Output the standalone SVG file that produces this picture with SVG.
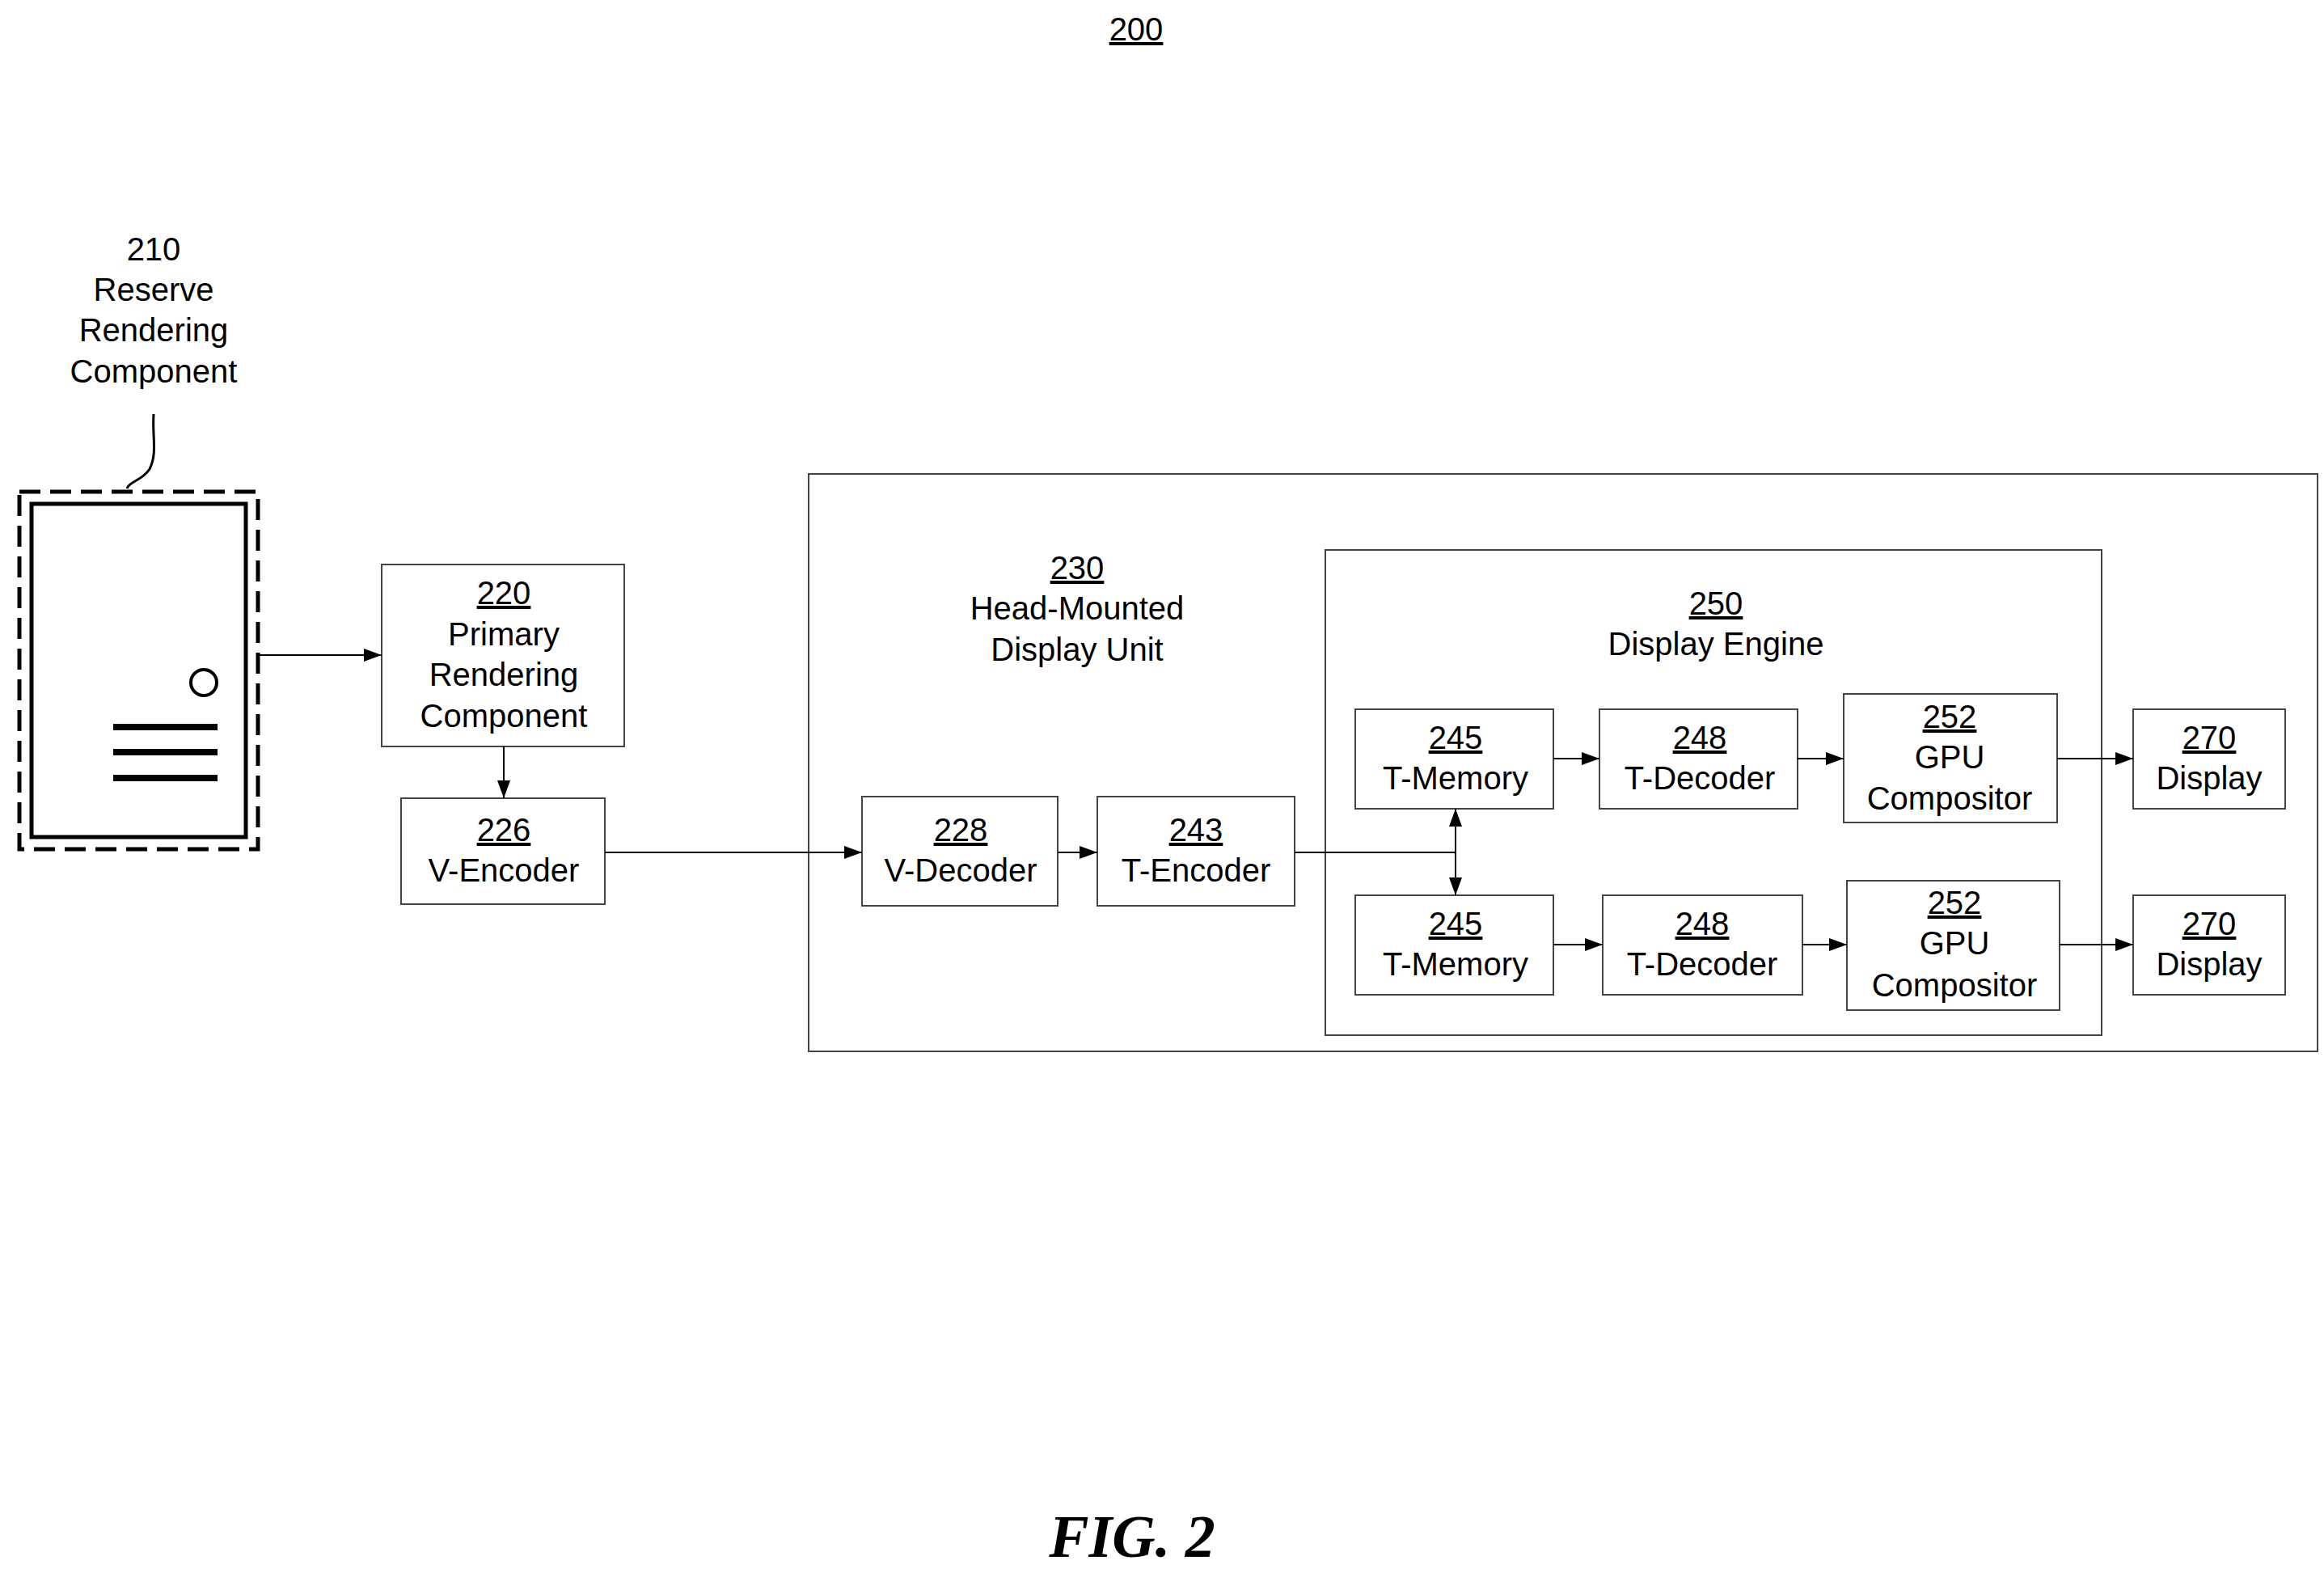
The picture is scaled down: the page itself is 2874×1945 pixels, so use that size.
<svg xmlns="http://www.w3.org/2000/svg" width="2874" height="1945" viewBox="0 0 2874 1945">
<defs>
<marker id="a" markerWidth="22" markerHeight="16" refX="22" refY="8" orient="auto-start-reverse" markerUnits="userSpaceOnUse"><path d="M0,0 L22,8 L0,16 z" fill="#000"/></marker>
</defs>
<style>
text{font-family:"Liberation Sans",Arial,sans-serif;font-size:40px;text-anchor:middle;fill:#000}
.u{text-decoration:underline}
.b{fill:#fff;stroke:#444;stroke-width:2}
.c line,.c path{stroke:#000;stroke-width:2;fill:none}
</style>
<rect x="0" y="0" width="2874" height="1945" fill="#fff"/>
<text x="1405" y="50" class="u">200</text>
<g id="n210">
<text x="190" y="322">210</text><text x="190" y="372">Reserve</text><text x="190" y="422">Rendering</text><text x="190" y="473">Component</text>
<path d="M190,512 C188,540 195,560 185,580 C175,595 160,595 157,604" fill="none" stroke="#000" stroke-width="3"/>
<rect x="24" y="608" width="295" height="442" fill="none" stroke="#000" stroke-width="5" stroke-dasharray="26,12"/>
<rect x="39" y="623" width="265" height="412" fill="#fff" stroke="#000" stroke-width="5"/>
<circle cx="252" cy="844" r="16" fill="#fff" stroke="#000" stroke-width="4"/>
<line x1="140" y1="899" x2="269" y2="899" stroke="#000" stroke-width="8"/>
<line x1="140" y1="930" x2="269" y2="930" stroke="#000" stroke-width="8"/>
<line x1="140" y1="962" x2="269" y2="962" stroke="#000" stroke-width="8"/>
</g>
<g id="n220"><rect class="b" x="472" y="698" width="300" height="225"/><text x="623" y="747" class="u">220</text><text x="623" y="798">Primary</text><text x="623" y="848">Rendering</text><text x="623" y="899">Component</text></g>
<g id="n226"><rect class="b" x="496" y="987" width="252" height="131"/><text x="623" y="1040" class="u">226</text><text x="623" y="1090">V-Encoder</text></g>
<g id="n230"><rect class="b" x="1000" y="586" width="1866" height="714"/><text x="1332" y="716" class="u">230</text><text x="1332" y="766">Head-Mounted</text><text x="1332" y="817">Display Unit</text></g>
<g id="n250"><rect class="b" x="1639" y="680" width="960" height="600"/><text x="2122" y="760" class="u">250</text><text x="2122" y="810">Display Engine</text></g>
<g id="n228"><rect class="b" x="1066" y="985" width="242" height="135"/><text x="1188" y="1040" class="u">228</text><text x="1188" y="1090">V-Decoder</text></g>
<g id="n243"><rect class="b" x="1357" y="985" width="244" height="135"/><text x="1479" y="1040" class="u">243</text><text x="1479" y="1090">T-Encoder</text></g>
<g id="n245a"><rect class="b" x="1676" y="877" width="245" height="123"/><text x="1800" y="926" class="u">245</text><text x="1800" y="976">T-Memory</text></g>
<g id="n248a"><rect class="b" x="1978" y="877" width="245" height="123"/><text x="2102" y="926" class="u">248</text><text x="2102" y="976">T-Decoder</text></g>
<g id="n252a"><rect class="b" x="2280" y="858" width="264" height="159"/><text x="2411" y="900" class="u">252</text><text x="2411" y="950">GPU</text><text x="2411" y="1001">Compositor</text></g>
<g id="n270a"><rect class="b" x="2638" y="877" width="188" height="123"/><text x="2732" y="926" class="u">270</text><text x="2732" y="976">Display</text></g>
<g id="n245b"><rect class="b" x="1676" y="1107" width="245" height="123"/><text x="1800" y="1156" class="u">245</text><text x="1800" y="1206">T-Memory</text></g>
<g id="n248b"><rect class="b" x="1982" y="1107" width="247" height="123"/><text x="2105" y="1156" class="u">248</text><text x="2105" y="1206">T-Decoder</text></g>
<g id="n252b"><rect class="b" x="2284" y="1089" width="263" height="160"/><text x="2417" y="1130" class="u">252</text><text x="2417" y="1180">GPU</text><text x="2417" y="1232">Compositor</text></g>
<g id="n270b"><rect class="b" x="2638" y="1107" width="188" height="123"/><text x="2732" y="1156" class="u">270</text><text x="2732" y="1206">Display</text></g>
<g class="c" id="connectors">
<line x1="319" y1="810" x2="472" y2="810" marker-end="url(#a)"/>
<line x1="623" y1="923" x2="623" y2="987" marker-end="url(#a)"/>
<line x1="748" y1="1054" x2="1066" y2="1054" marker-end="url(#a)"/>
<line x1="1308" y1="1054" x2="1357" y2="1054" marker-end="url(#a)"/>
<line x1="1601" y1="1054" x2="1800" y2="1054"/>
<line x1="1800" y1="1000" x2="1800" y2="1107" marker-start="url(#a)" marker-end="url(#a)"/>
<line x1="1921" y1="938" x2="1978" y2="938" marker-end="url(#a)"/>
<line x1="2223" y1="938" x2="2280" y2="938" marker-end="url(#a)"/>
<line x1="2544" y1="938" x2="2638" y2="938" marker-end="url(#a)"/>
<line x1="1921" y1="1168" x2="1982" y2="1168" marker-end="url(#a)"/>
<line x1="2229" y1="1168" x2="2284" y2="1168" marker-end="url(#a)"/>
<line x1="2547" y1="1168" x2="2638" y2="1168" marker-end="url(#a)"/>
</g>
<text x="1400" y="1925" style="font-family:'Liberation Serif','Times New Roman',serif;font-size:74px;font-weight:bold;font-style:italic">FIG. 2</text>
</svg>
